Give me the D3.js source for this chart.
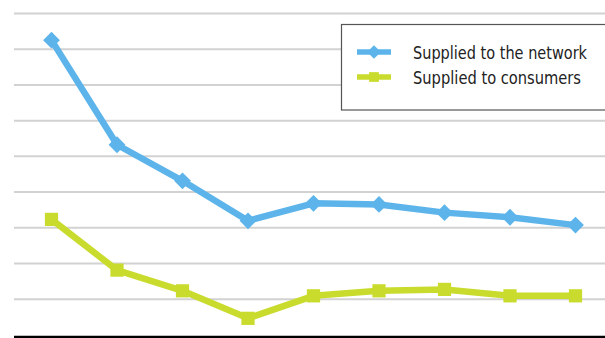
<!DOCTYPE html>
<html>
<head>
<meta charset="utf-8">
<script src="https://cdn.jsdelivr.net/npm/d3@7"></script>
<style>
  html, body { margin: 0; padding: 0; background: #fff; overflow: hidden; }
  svg { display: block; }
</style>
</head>
<body>
<svg id="chart" width="605" height="338"></svg>
<script>
// Periods along the horizontal axis
const periods = ["1", "2", "3", "4", "5", "6", "7", "8", "9"];
// Energy supplied to the network
const suppliedNetwork = [82.4, 53.1, 43.0, 31.8, 36.7, 36.4, 34.1, 32.8, 30.6];
// Energy supplied to consumers
const suppliedConsumers = [32.2, 18.0, 12.2, 4.5, 10.8, 12.2, 12.6, 10.8, 10.8];
// Horizontal gridline values
const gridValues = [10, 20, 30, 40, 50, 60, 70, 80, 90];
const seriesNames = ["Supplied to the network", "Supplied to consumers"];

const svg = d3.select("#chart");
const blue = "#5db4eb";
const green = "#c9dc2d";

const x = d3.scalePoint().domain(periods).range([51.5, 575.5]);
const y = d3.scaleLinear().domain([0, 90]).range([334.4, 13]);

// Gridlines
const grid = d3.axisLeft(y).tickValues(gridValues).tickSize(-(605 - 14)).tickFormat("");
svg.append("g")
  .attr("transform", "translate(14,0)")
  .call(grid)
  .call(g => g.select(".domain").remove())
  .call(g => g.selectAll(".tick line").attr("stroke", "#d2d2d2").attr("stroke-width", 2));

// Baseline
const base = d3.axisBottom(x).tickSize(0).tickFormat("");
svg.append("g")
  .attr("transform", `translate(0,${y(0) + 2.6})`)
  .call(base)
  .call(g => g.select(".domain")
    .attr("d", `M14,0H605`)
    .attr("stroke", "#000").attr("stroke-width", 2.6));

const line = d3.line().x((d, i) => x(periods[i])).y(d => y(d));

function drawSeries(values, color, symbolType, size) {
  const g = svg.append("g");
  g.append("path")
    .datum(values)
    .attr("d", line)
    .attr("fill", "none")
    .attr("stroke", color)
    .attr("stroke-width", 6.5)
    .attr("stroke-linejoin", "round");
  g.selectAll("path.pt")
    .data(values)
    .join("path")
    .attr("class", "pt")
    .attr("d", d3.symbol().type(symbolType).size(size))
    .attr("transform", (d, i) => `translate(${x(periods[i])},${y(d)})`)
    .attr("fill", color);
}

drawSeries(suppliedNetwork, blue, d3.symbolDiamond2, 180);
drawSeries(suppliedConsumers, green, d3.symbolSquare, 175);

// Legend
const legend = svg.append("g");
legend.append("rect")
  .attr("x", 341.5).attr("y", 24.5)
  .attr("width", 300).attr("height", 85.5)
  .attr("fill", "#fff").attr("stroke", "#555").attr("stroke-width", 1.2);

const legendItems = [
  { name: seriesNames[0], color: blue, type: d3.symbolDiamond2, size: 120, yy: 52, len: 174 },
  { name: seriesNames[1], color: green, type: d3.symbolSquare, size: 95, yy: 77, len: 168 }
];
legendItems.forEach(it => {
  legend.append("line")
    .attr("x1", 357).attr("x2", 391)
    .attr("y1", it.yy).attr("y2", it.yy)
    .attr("stroke", it.color).attr("stroke-width", 5.5);
  legend.append("path")
    .attr("d", d3.symbol().type(it.type).size(it.size))
    .attr("transform", `translate(374,${it.yy})`)
    .attr("fill", it.color);
  legend.append("text")
    .attr("x", 413).attr("y", it.yy + 6.5)
    .attr("font-family", "'Liberation Sans Narrow', 'DejaVu Sans Condensed', sans-serif")
    .attr("font-size", 17.5)
    .attr("textLength", it.len)
    .attr("lengthAdjust", "spacingAndGlyphs")
    .attr("fill", "#222")
    .text(it.name);
});
</script>
</body>
</html>
